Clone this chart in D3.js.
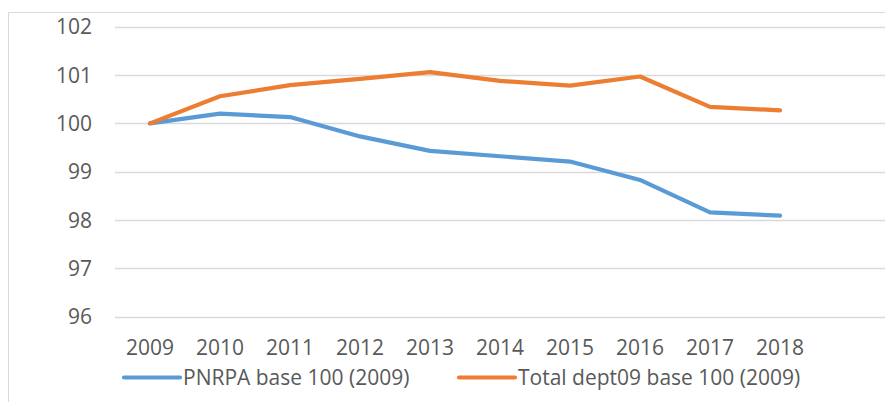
<!DOCTYPE html>
<html>
<head>
<meta charset="utf-8">
<script src="https://cdn.jsdelivr.net/npm/d3@7"></script>
<style>
  html, body { margin: 0; padding: 0; background: #fff; }
  svg { display: block; font-family: "Open Sans", sans-serif; }
</style>
</head>
<body>
<div id="viz"></div>
<script>
// années (une catégorie vide à la fin, comme dans Excel)
const years = ['2009','2010','2011','2012','2013','2014','2015','2016','2017','2018',''];
const pnrpa = [100, 100.2, 100.13, 99.73, 99.43, 99.32, 99.21, 98.83, 98.16, 98.09];
const dept09 = [100, 100.56, 100.79, 100.92, 101.06, 100.88, 100.78, 100.97, 100.34, 100.27];
const yTicks = [96, 97, 98, 99, 100, 101, 102];
const seriesNames = ['PNRPA base 100 (2009)', 'Total dept09 base 100 (2009)'];
const colors = ['#5B9BD5', '#ED7D31'];

const width = 885, height = 402;
const fs = 21;
const svg = d3.select('#viz').append('svg')
  .attr('width', width).attr('height', height);

// cadre du graphique
svg.append('path')
  .attr('d', `M8.5,${height} V12.5 H${width}`)
  .attr('fill', 'none').attr('stroke', '#D9D9D9').attr('stroke-width', 1);

const x = d3.scaleBand().domain(years).range([115, 885]);
const y = d3.scaleLinear().domain([96, 102]).range([316.7, 26.7]);

// grille + étiquettes Y
svg.append('g').selectAll('line').data(yTicks).enter().append('line')
  .attr('x1', 115).attr('x2', 885)
  .attr('y1', d => Math.round(y(d)) + 0.5).attr('y2', d => Math.round(y(d)) + 0.5)
  .attr('stroke', '#D9D9D9').attr('stroke-width', 1.3);

svg.append('g').selectAll('text').data(yTicks).enter().append('text')
  .attr('x', 92).attr('y', d => y(d)).attr('dy', '0.36em')
  .attr('text-anchor', 'end').attr('fill', '#595959').attr('font-size', fs)
  .text(d => d);

// étiquettes X
svg.append('g').selectAll('text').data(years.filter(d => d)).enter().append('text')
  .attr('x', d => x(d) + x.bandwidth() / 2).attr('y', 355)
  .attr('text-anchor', 'middle').attr('fill', '#595959').attr('font-size', fs)
  .text(d => d);

// courbes
const line = d3.line().x((d, i) => x(years[i]) + x.bandwidth() / 2).y(d => y(d));
[pnrpa, dept09].forEach((s, k) => {
  svg.append('path').datum(s)
    .attr('d', line).attr('fill', 'none')
    .attr('stroke', colors[k]).attr('stroke-width', 4.2)
    .attr('stroke-linejoin', 'round').attr('stroke-linecap', 'round');
});

// légende
const legendX = [124, 459];
const lg = svg.append('g').selectAll('g').data(seriesNames).enter().append('g')
  .attr('transform', (d, i) => `translate(${legendX[i]},377.5)`);
lg.append('line').attr('x1', 0).attr('x2', 56)
  .attr('stroke', (d, i) => colors[i]).attr('stroke-width', 4.2).attr('stroke-linecap', 'round');
lg.append('text').attr('x', 59).attr('y', 7)
  .attr('fill', '#595959').attr('font-size', fs)
  .text(d => d);
</script>
</body>
</html>
